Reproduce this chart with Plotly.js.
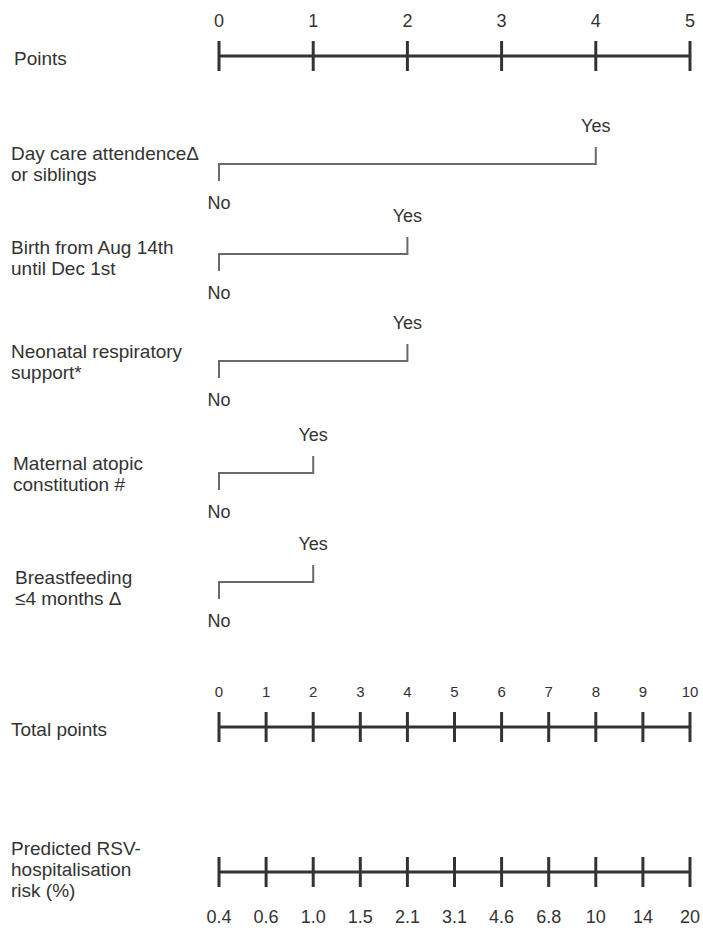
<!DOCTYPE html>
<html>
<head>
<meta charset="utf-8">
<script src="https://cdn.plot.ly/plotly-3.0.1.min.js"></script>
<style>
  html, body { margin: 0; padding: 0; background: #ffffff; }
  #chart { width: 703px; height: 928px; }
</style>
</head>
<body>
<div id="chart"></div>
<script>
// ---- data ----
const pointTicks = [0, 1, 2, 3, 4, 5];
const predictorLabels = [
  ["Day care attendenceΔ", "or siblings"],
  ["Birth from Aug 14th", "until Dec 1st"],
  ["Neonatal respiratory", "support*"],
  ["Maternal atopic", "constitution #"],
  ["Breastfeeding", "≤4 months Δ"]
];
const levelLabels = ["No", "Yes"];
const noPoints = [0, 0, 0, 0, 0];
const yesPoints = [4, 2, 2, 1, 1];
const totalPointTicks = [0, 1, 2, 3, 4, 5, 6, 7, 8, 9, 10];
const riskTickLabels = ["0.4", "0.6", "1.0", "1.5", "2.1", "3.1", "4.6", "6.8", "10", "14", "20"];
const riskTitle = ["Predicted RSV-", "hospitalisation", "risk (%)"];

// ---- layout geometry (vertical rows in page pixels) ----
const W = 703, H = 928;
const scaleLeft = 219, scaleRight = 690;        // pixel extent of the points scale
const pxPerPoint = (scaleRight - scaleLeft) / pointTicks[pointTicks.length - 1];
const xRange = [-scaleLeft / pxPerPoint, (W - scaleLeft) / pxPerPoint];
const totalMax = totalPointTicks[totalPointTicks.length - 1];
const totalFactor = totalMax / pointTicks[pointTicks.length - 1];
const x2Range = [xRange[0] * totalFactor, xRange[1] * totalFactor];

const pointsRow = { line: 56, labels: 22, title: 58 };
const predictorRows = [164, 254, 361, 473, 582];
const predictorTitleY = [153, 247, 351, 463, 577];
const predictorTitleX = [9, 9, 9, 11, 13];
const totalRow = { line: 727, labels: 693, title: 729 };
const riskRow = { line: 872, labels: 918, title: 848 };
const tickHalf = 15;
const bracketTick = 17;
const titleLineGap = 21;

const axisColor = "#333333";
const bracketColor = "#6a6a6a";
const textColor = "#333333";
const FONT = "Liberation Sans, Arial, sans-serif";

// builds a horizontal scale line with vertical ticks crossing it
function scaleLine(ticks, yLine, xaxis) {
  const xs = [], ys = [];
  xs.push(ticks[0], ticks[ticks.length - 1], null);
  ys.push(yLine, yLine, null);
  ticks.forEach(t => { xs.push(t, t, null); ys.push(yLine - tickHalf, yLine + tickHalf, null); });
  return {
    type: "scatter", mode: "lines", x: xs, y: ys, xaxis: xaxis, yaxis: "y",
    line: { color: axisColor, width: 3 }, hoverinfo: "skip", showlegend: false
  };
}

function tickText(ticks, labels, yPos, xaxis, size) {
  return {
    type: "scatter", mode: "text", x: ticks, y: ticks.map(() => yPos), text: labels,
    xaxis: xaxis, yaxis: "y", textposition: "middle center", cliponaxis: false,
    textfont: { family: FONT, size: size, color: textColor },
    hoverinfo: "skip", showlegend: false
  };
}

const traces = [];

// Points scale
traces.push(scaleLine(pointTicks, pointsRow.line, "x"));
traces.push(tickText(pointTicks, pointTicks.map(String), pointsRow.labels, "x", 18));

// Predictor brackets: No tick down at the left, Yes tick up at the right
predictorRows.forEach((yLine, i) => {
  const xn = noPoints[i], xy = yesPoints[i];
  traces.push({
    type: "scatter", mode: "lines",
    x: [xn, xn, xy, xy],
    y: [yLine + bracketTick, yLine, yLine, yLine - bracketTick],
    xaxis: "x", yaxis: "y",
    line: { color: bracketColor, width: 2 }, hoverinfo: "skip", showlegend: false
  });
  traces.push({
    type: "scatter", mode: "text",
    x: [xn, xy], y: [yLine + 40, yLine - 37], text: levelLabels,
    xaxis: "x", yaxis: "y", textposition: "middle center", cliponaxis: false,
    textfont: { family: FONT, size: 18, color: textColor },
    hoverinfo: "skip", showlegend: false
  });
});

// Total points scale
traces.push(scaleLine(totalPointTicks, totalRow.line, "x2"));
traces.push(tickText(totalPointTicks, totalPointTicks.map(String), totalRow.labels, "x2", 15));

// Predicted risk scale (same positions as total points)
traces.push(scaleLine(totalPointTicks, riskRow.line, "x2"));
traces.push(tickText(totalPointTicks, riskTickLabels, riskRow.labels, "x2", 18));

// Left-hand row titles, one annotation per text line
const annotations = [];
function rowTitle(lines, yFirst, x) {
  lines.forEach((txt, k) => annotations.push({
    xref: "paper", yref: "y", x: x / W, y: yFirst + k * titleLineGap, text: txt,
    xanchor: "left", yanchor: "middle", align: "left", showarrow: false,
    font: { family: FONT, size: 19, color: textColor }
  }));
}
rowTitle(["Points"], pointsRow.title, 12);
predictorLabels.forEach((lines, i) => rowTitle(lines, predictorTitleY[i], predictorTitleX[i]));
rowTitle(["Total points"], totalRow.title, 9);
rowTitle(riskTitle, riskRow.title, 9);

const layout = {
  width: W, height: H,
  margin: { l: 0, r: 0, t: 0, b: 0, pad: 0 },
  paper_bgcolor: "#ffffff", plot_bgcolor: "#ffffff",
  showlegend: false,
  xaxis: { range: xRange, visible: false, fixedrange: true },
  xaxis2: { range: x2Range, overlaying: "x", visible: false, fixedrange: true },
  yaxis: { range: [H, 0], visible: false, fixedrange: true },
  annotations: annotations
};

Plotly.newPlot("chart", traces, layout, { staticPlot: true, displayModeBar: false });
</script>
</body>
</html>
